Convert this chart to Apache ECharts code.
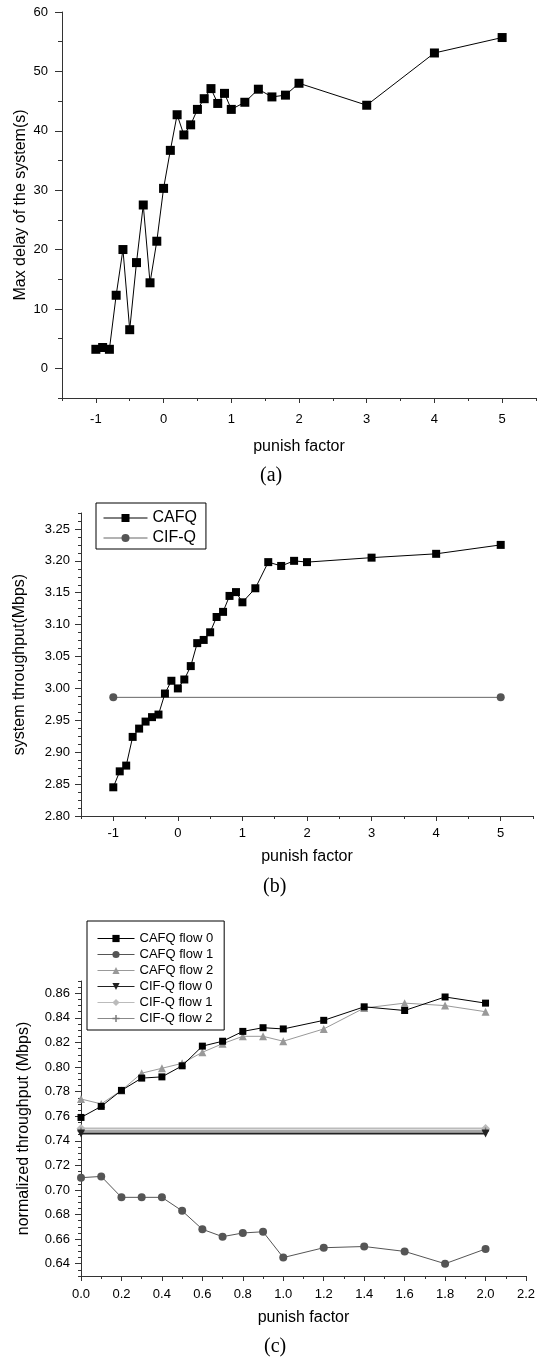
<!DOCTYPE html>
<html>
<head>
<meta charset="utf-8">
<script src="https://cdn.jsdelivr.net/npm/echarts@6/dist/echarts.min.js"></script>
<style>
    html, body { margin: 0; padding: 0; background: #fff; }
    #chart { width: 539px; height: 1360px; }
</style>
</head>
<body>
<div id="chart"></div>
<script>
// (a) max delay vs punish factor
const delayX = [-1, -0.9, -0.8, -0.7, -0.6, -0.5, -0.4, -0.3, -0.2, -0.1, 0, 0.1, 0.2, 0.3, 0.4, 0.5, 0.6, 0.7, 0.8, 0.9, 1.0, 1.2, 1.4, 1.6, 1.8, 2, 3, 4, 5];
const delayY = [3.2, 3.5, 3.2, 12.3, 20.0, 6.5, 17.8, 27.5, 14.4, 21.4, 30.3, 36.7, 42.7, 39.3, 41.0, 43.6, 45.4, 47.1, 44.6, 46.3, 43.6, 44.8, 47.0, 45.7, 46.0, 48.0, 44.3, 53.1, 55.7];

// (b) system throughput
const tputX = [-1, -0.9, -0.8, -0.7, -0.6, -0.5, -0.4, -0.3, -0.2, -0.1, 0, 0.1, 0.2, 0.3, 0.4, 0.5, 0.6, 0.7, 0.8, 0.9, 1.0, 1.2, 1.4, 1.6, 1.8, 2, 3, 4, 5];
const cafqTput = [2.845, 2.870, 2.879, 2.924, 2.937, 2.948, 2.955, 2.959, 2.992, 3.012, 3.000, 3.014, 3.035, 3.071, 3.076, 3.088, 3.112, 3.120, 3.145, 3.151, 3.135, 3.157, 3.198, 3.192, 3.200, 3.198, 3.205, 3.211, 3.225];
const cifqTputX = [-1, 5];
const cifqTput = [2.986, 2.986];

// (c) normalized throughput per flow
const flowX = [0, 0.1, 0.2, 0.3, 0.4, 0.5, 0.6, 0.7, 0.8, 0.9, 1.0, 1.2, 1.4, 1.6, 1.8, 2.0];
const cafqFlow0 = [0.759, 0.768, 0.781, 0.791, 0.792, 0.801, 0.817, 0.821, 0.829, 0.832, 0.831, 0.838, 0.849, 0.846, 0.857, 0.852];
const cafqFlow1 = [0.710, 0.711, 0.694, 0.694, 0.694, 0.683, 0.668, 0.662, 0.665, 0.666, 0.645, 0.653, 0.654, 0.650, 0.640, 0.652];
const cafqFlow2 = [0.774, 0.770, 0.781, 0.795, 0.799, 0.803, 0.812, 0.819, 0.825, 0.825, 0.821, 0.831, 0.848, 0.852, 0.850, 0.845];
const cifqFlowX = [0, 2.0];
const cifqFlow0 = [0.746, 0.746];
const cifqFlow1 = [0.750, 0.750];
const cifqFlow2 = [0.748, 0.748];

// tick labels
const delayXTicks = [-1, 0, 1, 2, 3, 4, 5];
const delayYTicks = [0, 10, 20, 30, 40, 50, 60];
const tputXTicks = [-1, 0, 1, 2, 3, 4, 5];
const tputYTicks = [2.80, 2.85, 2.90, 2.95, 3.00, 3.05, 3.10, 3.15, 3.20, 3.25];
const flowXTicks = [0, 0.2, 0.4, 0.6, 0.8, 1.0, 1.2, 1.4, 1.6, 1.8, 2.0, 2.2];
const flowYTicks = [0.64, 0.66, 0.68, 0.70, 0.72, 0.74, 0.76, 0.78, 0.80, 0.82, 0.84, 0.86];

const FONT = 'Liberation Sans';

function steps(from, to, step) {
    const out = [];
    const n = Math.round((to - from) / step);
    for (let i = 0; i <= n; i++) out.push(+(from + i * step).toFixed(6));
    return out;
}

function zip(xs, ys) {
    return xs.map(function (x, i) { return [x, ys[i]]; });
}

// main axis (line, labels, major ticks) plus a bare axis on top of it for minor ticks
function axisPair(dim, grid, min, max, ticks, minor, o) {
    const pos = dim === 'x' ? 'bottom' : 'left';
    const main = {
        type: 'value', gridIndex: grid, min: min, max: max, position: pos,
        splitLine: { show: false },
        axisLine: { onZero: false, lineStyle: { color: '#333', width: 1 } },
        axisTick: { length: o.tickLen, customValues: ticks, lineStyle: { color: '#333' } },
        axisLabel: {
            customValues: ticks, margin: o.margin, color: '#000',
            fontSize: 13, fontFamily: FONT, formatter: o.fmt
        },
        name: o.name, nameLocation: 'middle', nameGap: o.nameGap, nameMoveOverlap: false,
        nameTextStyle: { color: '#000', fontSize: 16, fontFamily: FONT }
    };
    const sub = {
        type: 'value', gridIndex: grid, min: min, max: max, position: pos,
        splitLine: { show: false },
        axisLine: { show: false, onZero: false },
        axisTick: { length: o.minorLen, customValues: minor, lineStyle: { color: '#333' } },
        axisLabel: { show: false }
    };
    return [main, sub];
}

const fix1 = function (v) { return v.toFixed(1); };
const fix2 = function (v) { return v.toFixed(2); };
const plain = function (v) { return String(v); };

const xAxes = [].concat(
    axisPair('x', 0, -1.5, 5.5, delayXTicks, steps(-1.5, 5.5, 0.5),
        { tickLen: 5, minorLen: 3, margin: 15, fmt: plain, name: 'punish factor', nameGap: 41 }),
    axisPair('x', 1, -1.5, 5.5, tputXTicks, steps(-1.5, 5.5, 0.5),
        { tickLen: 5, minorLen: 3, margin: 11, fmt: plain, name: 'punish factor', nameGap: 33 }),
    axisPair('x', 2, 0, 2.2, flowXTicks, steps(0, 2.2, 0.1),
        { tickLen: 5, minorLen: 3, margin: 12, fmt: fix1, name: 'punish factor', nameGap: 34 })
);
const yAxes = [].concat(
    axisPair('y', 0, -5, 60, delayYTicks, steps(-5, 60, 5),
        { tickLen: 7, minorLen: 4, margin: 14, fmt: plain, name: 'Max delay of the system(s)', nameGap: 33 }),
    axisPair('y', 1, 2.80, 3.275, tputYTicks, steps(2.80, 3.275, 0.0125),
        { tickLen: 6, minorLen: 3, margin: 11, fmt: fix2, name: 'system throughput(Mbps)', nameGap: 53 }),
    axisPair('y', 2, 0.63, 0.87, flowYTicks, steps(0.63, 0.87, 0.005),
        { tickLen: 6, minorLen: 3, margin: 11, fmt: fix2, name: 'normalized throughput (Mbps)', nameGap: 49 })
);

function lineSeries(name, grid, data, color, symbol, size, extra) {
    return Object.assign({
        name: name, type: 'line', xAxisIndex: grid * 2, yAxisIndex: grid * 2,
        data: data, symbol: symbol, symbolSize: size,
        itemStyle: { color: color },
        lineStyle: { color: color, width: 1 },
        emphasis: { disabled: true }
    }, extra || {});
}

const plusPath = 'path://M4,0H6V4H10V6H6V10H4V6H0V4H4Z';

const chart = echarts.init(document.getElementById('chart'));
const option = {
    animation: false,
    backgroundColor: '#fff',
    grid: [
        { left: 62, top: 12, width: 474, height: 386 },
        { left: 81, top: 513, width: 452, height: 303 },
        { left: 81, top: 981, width: 445, height: 295 }
    ],
    xAxis: xAxes,
    yAxis: yAxes,
    legend: [
        {
            data: ['CAFQ', 'CIF-Q'],
            orient: 'vertical', left: 96, top: 503,
            itemWidth: 44, itemHeight: 10, itemGap: 4,
            padding: [7, 9, 3, 7],
            borderColor: '#000', borderWidth: 1, borderRadius: 0,
            backgroundColor: '#fff',
            lineStyle: { width: 1 },
            textStyle: { color: '#000', fontSize: 16, fontFamily: FONT }
        },
        {
            data: ['CAFQ flow 0', 'CAFQ flow 1', 'CAFQ flow 2', 'CIF-Q flow 0', 'CIF-Q flow 1', 'CIF-Q flow 2'],
            orient: 'vertical', left: 87, top: 921,
            itemWidth: 37, itemHeight: 9, itemGap: 3,
            padding: [11, 11, 5, 10],
            borderColor: '#000', borderWidth: 1, borderRadius: 0,
            backgroundColor: '#fff',
            lineStyle: { width: 1 },
            textStyle: { color: '#000', fontSize: 13, fontFamily: FONT }
        }
    ],
    graphic: [
        { type: 'text', left: 260, top: 466, style: { text: '(a)', font: '20px "Liberation Serif"', fill: '#000' } },
        { type: 'text', left: 263, top: 877, style: { text: '(b)', font: '20px "Liberation Serif"', fill: '#000' } },
        { type: 'text', left: 264, top: 1337, style: { text: '(c)', font: '20px "Liberation Serif"', fill: '#000' } }
    ],
    series: [
        lineSeries('Max delay', 0, zip(delayX, delayY), '#000', 'rect', 9),

        lineSeries('CIF-Q', 1, zip(cifqTputX, cifqTput), '#555', 'circle', 8,
            { lineStyle: { color: '#666', width: 1 } }),
        lineSeries('CAFQ', 1, zip(tputX, cafqTput), '#000', 'rect', 8),

        lineSeries('CIF-Q flow 1', 2, zip(cifqFlowX, cifqFlow1), '#bbb', 'diamond', 9,
            { lineStyle: { color: '#bbb', width: 2 } }),
        lineSeries('CIF-Q flow 2', 2, zip(cifqFlowX, cifqFlow2), '#777', plusPath, 7,
            { lineStyle: { color: '#888', width: 1.5 } }),
        lineSeries('CIF-Q flow 0', 2, zip(cifqFlowX, cifqFlow0), '#222', 'triangle', 8,
            { symbolRotate: 180, lineStyle: { color: '#222', width: 2 } }),
        lineSeries('CAFQ flow 1', 2, zip(flowX, cafqFlow1), '#555', 'circle', 8),
        lineSeries('CAFQ flow 2', 2, zip(flowX, cafqFlow2), '#999', 'triangle', 8),
        lineSeries('CAFQ flow 0', 2, zip(flowX, cafqFlow0), '#000', 'rect', 7)
    ]
};
chart.setOption(option);
</script>
</body>
</html>
